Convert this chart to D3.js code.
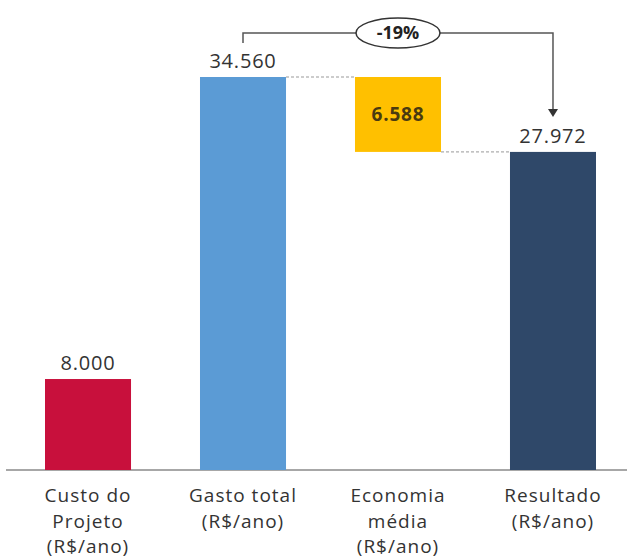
<!DOCTYPE html>
<html>
<head>
<meta charset="utf-8">
<script src="https://cdn.jsdelivr.net/npm/d3@7"></script>
<style>
  body { margin: 0; background: #fff; }
  svg text { font-family: "Open Sans", "DejaVu Sans", sans-serif; }
</style>
</head>
<body>
<div id="chart"></div>
<script>
const categories = ["Custo do Projeto (R$/ano)", "Gasto total (R$/ano)", "Economia média (R$/ano)", "Resultado (R$/ano)"];
const labelLines = [["Custo do", "Projeto", "(R$/ano)"], ["Gasto total", "(R$/ano)"], ["Economia", "média", "(R$/ano)"], ["Resultado", "(R$/ano)"]];
const lows = [0, 0, 27972, 0];
const highs = [8000, 34560, 34560, 27972];
const valueLabels = ["8.000", "34.560", "6.588", "27.972"];
const colors = ["#c8103c", "#5b9bd5", "#ffc000", "#2f4869"];
const changeLabel = "-19%";

const width = 627, height = 558;
const svg = d3.select("#chart").append("svg")
  .attr("width", width).attr("height", height);

const x = d3.scaleBand().domain(categories).range([14, 627]).paddingInner(0.445).paddingOuter(0.2);
const y = d3.scaleLinear().domain([0, 34560]).range([470, 77]);

// baseline
svg.append("line")
  .attr("x1", 6).attr("x2", 627)
  .attr("y1", y(0)).attr("y2", y(0))
  .attr("stroke", "#8a8a8a").attr("stroke-width", 1.5);

// bars
svg.append("g").selectAll("rect")
  .data(categories)
  .join("rect")
  .attr("x", d => x(d))
  .attr("y", (d, i) => y(highs[i]))
  .attr("width", x.bandwidth())
  .attr("height", (d, i) => y(lows[i]) - y(highs[i]))
  .attr("fill", (d, i) => colors[i]);

// dashed connectors
svg.append("line")
  .attr("x1", x(categories[1]) + x.bandwidth()).attr("x2", x(categories[2]))
  .attr("y1", y(highs[1])).attr("y2", y(highs[1]))
  .attr("stroke", "#999").attr("stroke-dasharray", "3,2");
svg.append("line")
  .attr("x1", x(categories[2]) + x.bandwidth()).attr("x2", x(categories[3]))
  .attr("y1", y(lows[2])).attr("y2", y(lows[2]))
  .attr("stroke", "#999").attr("stroke-dasharray", "3,2");

// value labels
svg.append("g").selectAll("text")
  .data(categories)
  .join("text")
  .attr("x", d => x(d) + x.bandwidth() / 2)
  .attr("y", (d, i) => i === 2 ? (y(highs[i]) + y(lows[i])) / 2 + 7 : y(highs[i]) - 9)
  .attr("text-anchor", "middle")
  .attr("font-size", (d, i) => i === 2 ? 19 : 20)
  .attr("letter-spacing", 0.8)
  .attr("font-weight", (d, i) => i === 2 ? "bold" : "normal")
  .attr("fill", (d, i) => i === 2 ? "#4a3a10" : "#333")
  .text((d, i) => valueLabels[i]);

// category labels
const cat = svg.append("g").selectAll("text")
  .data(categories)
  .join("text")
  .attr("x", d => x(d) + x.bandwidth() / 2)
  .attr("y", 502)
  .attr("text-anchor", "middle")
  .attr("font-size", 19)
  .attr("letter-spacing", 1)
  .attr("fill", "#333");
cat.selectAll("tspan")
  .data((d, i) => labelLines[i])
  .join("tspan")
  .attr("x", function () { return d3.select(this.parentNode).attr("x"); })
  .attr("dy", (d, j) => j === 0 ? 0 : 25.5)
  .text(d => d);

// -19% bracket
const xL = x(categories[1]) + x.bandwidth() / 2;
const xR = x(categories[3]) + x.bandwidth() / 2;
const yTop = 33;
const yArrow = y(highs[3]) - 36;
svg.append("path")
  .attr("d", `M${xL},${yTop + 10}V${yTop}H${xR}V${yArrow - 6}`)
  .attr("fill", "none").attr("stroke", "#555").attr("stroke-width", 1.5);
svg.append("path")
  .attr("d", `M${xR - 5},${yArrow - 7}L${xR + 5},${yArrow - 7}L${xR},${yArrow + 1}Z`)
  .attr("fill", "#333");
const cx = (x(categories[2]) + x.bandwidth() / 2);
svg.append("ellipse")
  .attr("cx", cx).attr("cy", yTop)
  .attr("rx", 42).attr("ry", 15)
  .attr("fill", "#fff").attr("stroke", "#333").attr("stroke-width", 1.5);
svg.append("text")
  .attr("x", cx).attr("y", yTop + 6)
  .attr("text-anchor", "middle")
  .attr("font-size", 18).attr("font-weight", "bold")
  .attr("fill", "#222")
  .text(changeLabel);
</script>
</body>
</html>
